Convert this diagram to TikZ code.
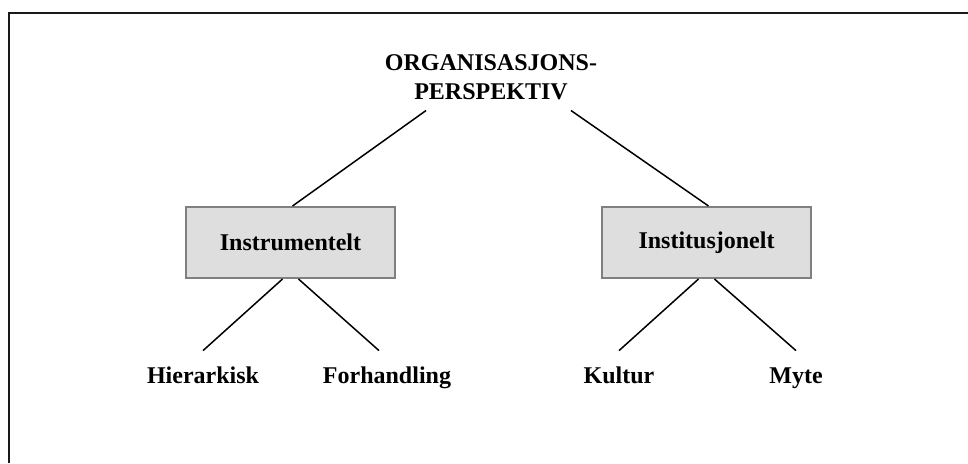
\documentclass[tikz,border=0pt]{standalone}
\usepackage{fontspec}
\setmainfont{Liberation Serif}
\begin{document}
\begin{tikzpicture}[x=0.5pt,y=-0.5pt,
  lbl/.style={font=\bfseries\fontsize{12}{14.5}\selectfont, inner sep=0pt},
  catbox/.style={lbl, draw=boxedge, line width=1pt, fill=boxfill,
    minimum width=104.5pt, minimum height=35.5pt},
  leaf/.style={lbl, text height=8pt, text depth=0pt, inner ysep=8pt},
  branch/.style={line width=0.75pt, draw=black},
  frameline/.style={line width=1.3pt, draw=framecol}
]
\definecolor{boxedge}{RGB}{128,128,128}
\definecolor{boxfill}{RGB}{222,222,222}
\definecolor{framecol}{RGB}{25,25,25}
\useasboundingbox (0,0) rectangle (968,463);

% open frame: top and left edges only
\draw[frameline] (9,463) -- (9,13) -- (968,13);

% root
\node[lbl, align=center] (root) at (491,77.5) {ORGANISASJONS-\\PERSPEKTIV};

% two perspectives
\node[catbox] (instr) at (290.5,242.5) {Instrumentelt};
\node[catbox] (insti) at (706.5,242.5) {Institusjonelt};

% leaves
\node[leaf] (hier) at (203,375) {Hierarkisk};
\node[leaf] (forh) at (387,375) {Forhandling};
\node[leaf] (kult) at (619,375) {Kultur};
\node[leaf] (myte) at (796,375) {Myte};

% connectors
\draw[branch] ([xshift=-32.5pt,yshift=-5pt]root.south) -- ([xshift=1pt]instr.north);
\draw[branch] ([xshift=40pt,yshift=-5pt]root.south) -- ([xshift=1pt]insti.north);

\draw[branch] ([xshift=-4pt]instr.south) -- (hier.north);
\draw[branch] ([xshift=4pt]instr.south) -- ([xshift=-4pt]forh.north);
\draw[branch] ([xshift=-4pt]insti.south) -- (kult.north);
\draw[branch] ([xshift=4pt]insti.south) -- (myte.north);
\end{tikzpicture}
\end{document}
